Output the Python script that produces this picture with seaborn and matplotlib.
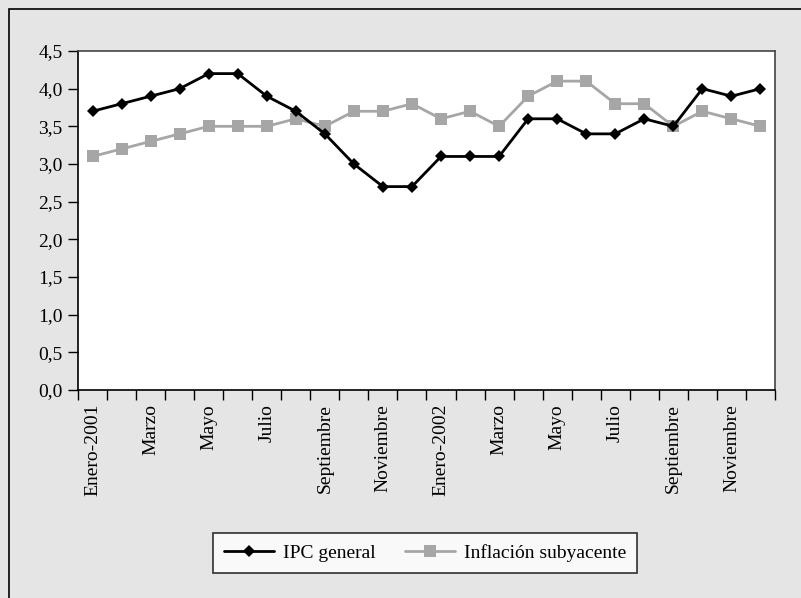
import matplotlib
matplotlib.use("Agg")
import matplotlib.pyplot as plt
import seaborn as sns
import pandas as pd
import numpy as np
from matplotlib.patches import Rectangle

months = ["Enero-2001", "Febrero", "Marzo", "Abril", "Mayo", "Junio", "Julio", "Agosto",
          "Septiembre", "Octubre", "Noviembre", "Diciembre",
          "Enero-2002", "Febrero", "Marzo", "Abril", "Mayo", "Junio", "Julio", "Agosto",
          "Septiembre", "Octubre", "Noviembre", "Diciembre"]
ipc_general = [3.7, 3.8, 3.9, 4.0, 4.2, 4.2, 3.9, 3.7, 3.4, 3.0, 2.7, 2.7,
               3.1, 3.1, 3.1, 3.6, 3.6, 3.4, 3.4, 3.6, 3.5, 4.0, 3.9, 4.0]
inflacion_subyacente = [3.1, 3.2, 3.3, 3.4, 3.5, 3.5, 3.5, 3.6, 3.5, 3.7, 3.7, 3.8,
                        3.6, 3.7, 3.5, 3.9, 4.1, 4.1, 3.8, 3.8, 3.5, 3.7, 3.6, 3.5]
y_ticks = [0.0, 0.5, 1.0, 1.5, 2.0, 2.5, 3.0, 3.5, 4.0, 4.5]

sns.set_theme(style="white")
plt.rcParams["font.family"] = ["Liberation Serif", "DejaVu Serif"]
plt.rcParams["text.color"] = "black"
plt.rcParams["xtick.color"] = "black"
plt.rcParams["ytick.color"] = "black"

BG = "#e5e5e5"
GRAY = "#a6a6a6"
FS = 14

fig = plt.figure(figsize=(8.01, 5.98), dpi=100, facecolor=BG)
W, H = 801, 598
ax = fig.add_axes([78 / W, 1 - 390 / H, (775 - 78) / W, (390 - 51) / H])
ax.set_facecolor("white")

# outer frame of the chart area
fig.patches.append(Rectangle((9 / W, -0.1), 1.2, 1 - 9 / H + 0.1,
                             transform=fig.transFigure, fill=False,
                             edgecolor="black", linewidth=1.2, zorder=0))

pos = np.arange(len(months))
df = pd.DataFrame({"pos": pos, "IPC general": ipc_general,
                   "Inflación subyacente": inflacion_subyacente})

sns.lineplot(data=df, x="pos", y="Inflación subyacente", ax=ax, color=GRAY,
             linewidth=2, marker="s", markersize=9, markeredgewidth=0,
             label="Inflación subyacente", zorder=2)
sns.lineplot(data=df, x="pos", y="IPC general", ax=ax, color="black",
             linewidth=2, marker="D", markersize=6.5, markeredgewidth=0,
             label="IPC general", zorder=3)

ax.set_xlim(-0.5, len(months) - 0.5)
ax.set_ylim(0, 4.5)
ax.set_yticks(y_ticks)
ax.set_yticklabels([f"{v:.1f}".replace(".", ",") for v in y_ticks], fontsize=FS)

ax.set_xticks(pos[::2])
ax.set_xticklabels(months[::2], rotation=90, fontsize=FS)
ax.set_xticks(np.arange(-0.5, len(months), 1.0), minor=True)
ax.tick_params(axis="x", which="major", bottom=True, length=0, pad=10)
ax.tick_params(axis="x", which="minor", bottom=True, length=7, width=1,
               color="black", direction="out")
ax.tick_params(axis="y", which="major", left=True, length=7, width=1,
               color="black", direction="out", pad=4)
ax.set_xlabel("")
ax.set_ylabel("")

for side in ["left", "bottom"]:
    ax.spines[side].set_color("black")
    ax.spines[side].set_linewidth(1.2)
for side in ["top", "right"]:
    ax.spines[side].set_color("#444444")
    ax.spines[side].set_linewidth(1.2)

handles, labels = ax.get_legend_handles_labels()
order = [labels.index("IPC general"), labels.index("Inflación subyacente")]
leg = fig.legend([handles[i] for i in order], [labels[i] for i in order],
                 loc="center", bbox_to_anchor=(425 / W, 1 - 553 / H), ncol=2,
                 frameon=True, fancybox=False, fontsize=FS, handlelength=2.6,
                 handletextpad=0.45, columnspacing=1.5, borderpad=0.55,
                 borderaxespad=0)
leg.get_frame().set_edgecolor("black")
leg.get_frame().set_linewidth(1.2)
ax.get_legend().remove()

fig.savefig("out.png", dpi=100, facecolor=BG)
